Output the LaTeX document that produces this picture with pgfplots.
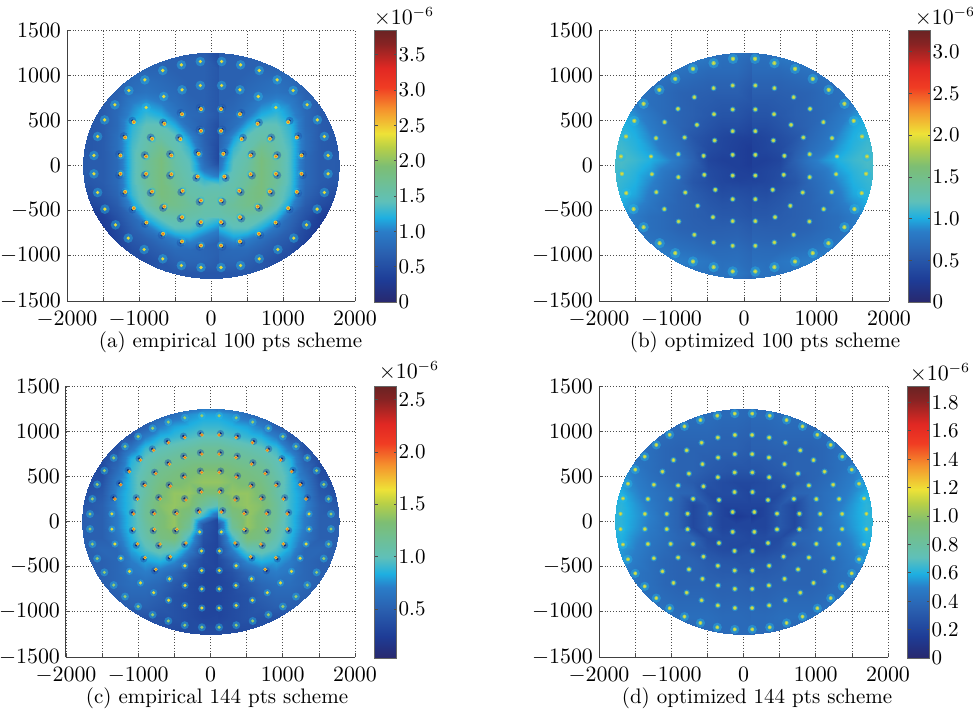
\documentclass[border=0pt]{standalone}
\usepackage{pgfplots}
\usepackage{pgfplotstable}
\pgfplotsset{compat=1.18}
\pgfplotsset{colormap={rm}{
 rgb255(0cm)=(40,40,110) rgb255(8cm)=(30,60,150) rgb255(18cm)=(42,96,176) rgb255(26cm)=(42,125,200)
 rgb255(31cm)=(30,175,225) rgb255(37cm)=(95,192,185) rgb255(50cm)=(125,190,115) rgb255(57cm)=(185,208,70)
 rgb255(62cm)=(238,226,55) rgb255(71cm)=(245,145,45) rgb255(79cm)=(240,60,35) rgb255(86cm)=(225,40,35)
 rgb255(95cm)=(135,35,35) rgb255(100cm)=(105,35,35)}}
\definecolor{hc}{RGB}{40,185,230}
\definecolor{hd}{RGB}{30,80,170}
\definecolor{dk}{RGB}{25,35,110}
\definecolor{sy}{RGB}{225,220,60}
\definecolor{so}{RGB}{245,110,35}
\definecolor{sg}{RGB}{150,205,110}
\pgfplotsset{
 halo/.style={only marks,mark=*,mark size=#1,mark options={draw opacity=0,fill=hc,fill opacity=.42}},
 halod/.style={only marks,mark=*,mark size=#1,mark options={draw opacity=0,fill=hd,fill opacity=.45}},
 sdark/.style={only marks,mark=*,mark size=#1,mark options={draw opacity=0,fill=dk}},
 syel/.style={only marks,mark=*,mark size=#1,mark options={draw opacity=0,fill=sy}},
 sora/.style={only marks,mark=*,mark size=#1,mark options={draw opacity=0,fill=so}},
 sgre/.style={only marks,mark=*,mark size=#1,mark options={draw opacity=0,fill=sg}},
 panel/.style={scale only axis,height=135.5pt,
  xmin=-2000,xmax=2000,ymin=-1500,ymax=1500,
  xtick={-2000,-1500,-1000,-500,0,500,1000,1500,2000},
  xticklabels={$-2000$,,$-1000$,,$0$,,$1000$,,$2000$},
  ytick={-1500,-1000,-500,0,500,1000,1500},
  yticklabels={$-1500$,$-1000$,$-500$,$0$,$500$,$1000$,$1500$},
  axis x line=bottom,axis y line=left,axis line style={-,black!75,line width=.5pt},
  grid=major,major grid style={densely dotted,black!70,line width=.35pt},
  tick align=inside,major tick length=2pt,tick style={black!70,line width=.35pt},
  tick label style={font=\fontsize{10.5}{12}\selectfont},
  xticklabel style={yshift=-1.5pt},yticklabel style={xshift=0.5pt},
  colormap name=rm,colorbar,
 },
 cbar/.style 2 args={colorbar style={width=11pt,height=136pt,xshift=-13pt,
   ytick={#1},yticklabels={#2},yticklabel pos=right,ytick pos=both,
   tick align=inside,major tick length=1.5pt,tick style={black!70,line width=.3pt},
   axis line style={black!60,line width=.4pt},
   tick label style={font=\fontsize{10.5}{12}\selectfont},yticklabel style={xshift=-2.5pt},
   }},
}
\newcommand\prep[1]{%
 \pgfplotstablecreatecol[create col/expr={200*mod(\pgfplotstablerow,10)}]{x}#1%
 \pgfplotstablecreatecol[create col/expr={1250-125*floor(\pgfplotstablerow/10)}]{y}#1%
}
\newcommand\field[1]{%
 \addplot[matrix plot*,shader=interp,mesh/cols=10,point meta=explicit] table[x=x,y=y,meta=z]{#1};
 \addplot[matrix plot*,shader=interp,mesh/cols=10,point meta=explicit] table[x expr=-\thisrow{x},y=y,meta=z]{#1};
}
\newcommand\both[2]{%
 \addplot[#1] table[x=x,y=y]{#2};
 \addplot[#1] table[x expr=-\thisrow{x},y=y]{#2};
}
\newcommand\dark[2]{%
 \addplot[#1,restrict y to domain=0:1500,every mark/.append style={xshift=.7pt,yshift=.7pt}] table[x=x,y=y]{#2};
 \addplot[#1,restrict y to domain=-1500:0,every mark/.append style={xshift=.7pt,yshift=-.7pt}] table[x=x,y=y]{#2};
 \addplot[#1,restrict y to domain=0:1500,every mark/.append style={xshift=-.7pt,yshift=.7pt}] table[x expr=-\thisrow{x},y=y]{#2};
 \addplot[#1,restrict y to domain=-1500:0,every mark/.append style={xshift=-.7pt,yshift=-.7pt}] table[x expr=-\thisrow{x},y=y]{#2};
}
\pgfplotstableread[row sep=\\]{z\\
0.5\\0.6\\0.6\\0.6\\0.6\\0.6\\0.6\\0.6\\0.6\\0.6\\
0.5\\0.7\\0.7\\0.7\\0.7\\0.7\\0.7\\0.7\\0.7\\0.6\\
0.6\\0.7\\0.7\\0.7\\0.75\\0.75\\0.75\\0.7\\0.7\\0.6\\
0.6\\0.7\\0.7\\0.75\\0.8\\0.85\\0.8\\0.7\\0.65\\0.6\\
0.6\\0.7\\0.7\\0.8\\0.85\\0.9\\0.85\\0.7\\0.65\\0.6\\
0.6\\0.7\\0.75\\0.85\\1.0\\1.1\\1.0\\0.75\\0.65\\0.6\\
0.6\\0.75\\0.8\\0.95\\1.2\\1.3\\1.1\\0.8\\0.65\\0.6\\
0.5\\0.7\\0.85\\1.2\\1.45\\1.45\\1.25\\0.8\\0.65\\0.6\\
0.5\\0.7\\1.1\\1.45\\1.55\\1.5\\1.3\\0.85\\0.65\\0.6\\
0.45\\0.75\\1.3\\1.5\\1.75\\1.55\\1.35\\0.85\\0.65\\0.6\\
0.45\\0.8\\1.4\\1.55\\1.85\\1.65\\1.35\\0.8\\0.65\\0.65\\
0.5\\0.9\\1.45\\1.6\\1.85\\1.65\\1.35\\0.8\\0.65\\0.65\\
0.9\\1.3\\1.5\\1.65\\1.85\\1.65\\1.35\\0.8\\0.65\\0.6\\
1.45\\1.5\\1.55\\1.75\\1.85\\1.55\\1.3\\0.75\\0.6\\0.5\\
1.55\\1.55\\1.65\\1.75\\1.75\\1.5\\1.1\\0.65\\0.5\\0.4\\
1.5\\1.5\\1.55\\1.55\\1.5\\1.25\\0.8\\0.55\\0.35\\0.3\\
1.3\\1.3\\1.4\\1.4\\1.2\\0.9\\0.7\\0.45\\0.3\\0.3\\
1.0\\1.0\\1.1\\1.0\\0.85\\0.7\\0.6\\0.4\\0.3\\0.3\\
0.7\\0.75\\0.8\\0.8\\0.7\\0.6\\0.5\\0.35\\0.3\\0.3\\
0.7\\0.75\\0.75\\0.7\\0.6\\0.5\\0.5\\0.4\\0.3\\0.3\\
0.6\\0.6\\0.6\\0.6\\0.6\\0.5\\0.5\\0.4\\0.3\\0.3\\
}\fieldA
\pgfplotstableread[row sep=\\]{z\\
0.7\\0.8\\0.75\\0.75\\0.75\\0.75\\0.75\\0.75\\0.75\\0.75\\
0.65\\0.72\\0.72\\0.78\\0.82\\0.85\\0.9\\0.9\\0.9\\0.9\\
0.6\\0.68\\0.68\\0.68\\0.72\\0.75\\0.8\\0.85\\0.9\\0.9\\
0.55\\0.62\\0.62\\0.62\\0.65\\0.68\\0.72\\0.75\\0.8\\0.85\\
0.5\\0.58\\0.58\\0.58\\0.6\\0.62\\0.68\\0.72\\0.8\\0.88\\
0.48\\0.52\\0.52\\0.55\\0.58\\0.62\\0.68\\0.72\\0.82\\0.92\\
0.42\\0.48\\0.48\\0.52\\0.58\\0.62\\0.68\\0.78\\0.9\\1.0\\
0.36\\0.42\\0.42\\0.48\\0.56\\0.62\\0.72\\0.82\\0.98\\1.05\\
0.3\\0.32\\0.36\\0.42\\0.5\\0.65\\0.75\\0.88\\1.02\\1.08\\
0.25\\0.3\\0.35\\0.4\\0.55\\0.7\\0.8\\0.95\\1.05\\1.12\\
0.25\\0.3\\0.3\\0.35\\0.6\\0.78\\0.92\\1.02\\1.1\\1.15\\
0.25\\0.3\\0.35\\0.4\\0.55\\0.7\\0.8\\0.95\\1.05\\1.12\\
0.3\\0.32\\0.36\\0.42\\0.5\\0.65\\0.75\\0.88\\1.02\\1.08\\
0.36\\0.42\\0.42\\0.48\\0.56\\0.62\\0.72\\0.82\\0.98\\1.05\\
0.42\\0.48\\0.48\\0.52\\0.58\\0.62\\0.68\\0.78\\0.9\\1.0\\
0.48\\0.52\\0.52\\0.55\\0.58\\0.62\\0.68\\0.72\\0.82\\0.92\\
0.5\\0.58\\0.58\\0.58\\0.6\\0.62\\0.68\\0.72\\0.8\\0.88\\
0.55\\0.62\\0.62\\0.62\\0.65\\0.68\\0.72\\0.75\\0.8\\0.85\\
0.6\\0.68\\0.68\\0.68\\0.72\\0.75\\0.8\\0.85\\0.9\\0.9\\
0.65\\0.72\\0.72\\0.78\\0.82\\0.85\\0.9\\0.9\\0.9\\0.9\\
0.7\\0.8\\0.75\\0.75\\0.75\\0.75\\0.75\\0.75\\0.75\\0.75\\
}\fieldB
\pgfplotstableread[row sep=\\]{z\\
0.5\\0.6\\0.5\\0.4\\0.4\\0.4\\0.4\\0.4\\0.4\\0.4\\
0.8\\0.8\\0.75\\0.6\\0.5\\0.4\\0.4\\0.4\\0.4\\0.4\\
0.9\\0.9\\0.85\\0.8\\0.7\\0.5\\0.4\\0.4\\0.4\\0.4\\
1.0\\1.0\\0.95\\0.9\\0.85\\0.7\\0.45\\0.4\\0.4\\0.4\\
1.15\\1.15\\1.1\\1.05\\1.0\\0.9\\0.65\\0.4\\0.35\\0.35\\
1.2\\1.2\\1.2\\1.15\\1.1\\1.0\\0.85\\0.5\\0.35\\0.35\\
1.35\\1.35\\1.3\\1.25\\1.2\\1.05\\0.9\\0.6\\0.35\\0.35\\
1.4\\1.4\\1.35\\1.3\\1.25\\1.1\\0.9\\0.7\\0.4\\0.35\\
1.3\\1.3\\1.4\\1.4\\1.3\\1.1\\0.9\\0.75\\0.45\\0.4\\
1.0\\1.15\\1.35\\1.4\\1.35\\1.15\\0.9\\0.75\\0.5\\0.45\\
0.55\\0.9\\1.25\\1.4\\1.3\\1.15\\0.9\\0.7\\0.5\\0.5\\
0.3\\0.45\\1.15\\1.4\\1.3\\1.1\\0.9\\0.7\\0.5\\0.5\\
0.3\\0.4\\0.9\\1.3\\1.25\\1.05\\0.85\\0.65\\0.5\\0.5\\
0.3\\0.35\\0.7\\1.0\\1.05\\0.95\\0.8\\0.55\\0.55\\0.5\\
0.3\\0.35\\0.5\\0.75\\0.85\\0.8\\0.7\\0.55\\0.5\\0.5\\
0.3\\0.3\\0.4\\0.55\\0.65\\0.7\\0.65\\0.55\\0.5\\0.5\\
0.3\\0.3\\0.35\\0.45\\0.55\\0.6\\0.6\\0.55\\0.5\\0.5\\
0.3\\0.3\\0.35\\0.4\\0.5\\0.55\\0.55\\0.5\\0.5\\0.5\\
0.3\\0.3\\0.35\\0.4\\0.45\\0.5\\0.5\\0.5\\0.5\\0.5\\
0.3\\0.3\\0.35\\0.4\\0.4\\0.4\\0.4\\0.4\\0.4\\0.4\\
0.35\\0.35\\0.35\\0.35\\0.4\\0.4\\0.4\\0.4\\0.4\\0.4\\
}\fieldC
\pgfplotstableread[row sep=\\]{z\\
0.4\\0.4\\0.4\\0.4\\0.38\\0.38\\0.38\\0.38\\0.38\\0.38\\
0.38\\0.4\\0.4\\0.42\\0.42\\0.42\\0.45\\0.45\\0.45\\0.45\\
0.36\\0.38\\0.38\\0.4\\0.4\\0.4\\0.42\\0.45\\0.45\\0.45\\
0.34\\0.36\\0.36\\0.38\\0.38\\0.38\\0.4\\0.42\\0.45\\0.45\\
0.32\\0.35\\0.35\\0.36\\0.36\\0.36\\0.38\\0.42\\0.45\\0.5\\
0.3\\0.32\\0.32\\0.34\\0.36\\0.36\\0.38\\0.42\\0.45\\0.5\\
0.28\\0.28\\0.3\\0.32\\0.36\\0.36\\0.38\\0.42\\0.48\\0.55\\
0.22\\0.22\\0.24\\0.28\\0.32\\0.36\\0.4\\0.44\\0.5\\0.55\\
0.2\\0.24\\0.24\\0.24\\0.36\\0.38\\0.42\\0.46\\0.52\\0.6\\
0.2\\0.2\\0.2\\0.3\\0.22\\0.36\\0.42\\0.48\\0.55\\0.62\\
0.18\\0.14\\0.2\\0.3\\0.22\\0.36\\0.42\\0.5\\0.56\\0.62\\
0.2\\0.2\\0.2\\0.3\\0.22\\0.36\\0.42\\0.48\\0.55\\0.62\\
0.2\\0.24\\0.24\\0.24\\0.36\\0.38\\0.42\\0.46\\0.52\\0.6\\
0.22\\0.22\\0.24\\0.28\\0.32\\0.36\\0.4\\0.44\\0.5\\0.55\\
0.28\\0.28\\0.3\\0.32\\0.36\\0.36\\0.38\\0.42\\0.48\\0.55\\
0.3\\0.32\\0.32\\0.34\\0.36\\0.36\\0.38\\0.42\\0.45\\0.5\\
0.32\\0.35\\0.35\\0.36\\0.36\\0.36\\0.38\\0.42\\0.45\\0.5\\
0.34\\0.36\\0.36\\0.38\\0.38\\0.38\\0.4\\0.42\\0.45\\0.45\\
0.36\\0.38\\0.38\\0.4\\0.4\\0.4\\0.42\\0.45\\0.45\\0.45\\
0.38\\0.4\\0.4\\0.42\\0.42\\0.42\\0.45\\0.45\\0.45\\0.45\\
0.4\\0.4\\0.4\\0.4\\0.38\\0.38\\0.38\\0.38\\0.38\\0.38\\
}\fieldD
\prep\fieldA \prep\fieldB \prep\fieldC \prep\fieldD
% panel (a) measurement points, right half (the left half is its mirror)
\pgfplotstableread{
x y
148 1151
411 1114
670 1052
919 948
1141 830
1335 672
1478 505
1575 321
1626 111
1626 -92
1575 -299
1474 -483
1326 -657
1150 -804
929 -930
670 -1033
411 -1107
139 -1129
148 886
402 838
656 764
901 642
}\Aout
\pgfplotstableread{
x y
1072 480
1192 310
1257 111
1257 -92
1192 -292
1072 -472
896 -631
665 -756
402 -841
139 -886
139 624
402 568
647 461
818 295
901 100
901 -92
818 -288
647 -454
402 -572
139 -627
139 384
425 292
550 111
550 -96
393 -280
139 -387
171 129
185 -122
}\Ain
% panel (b) points, right half
\pgfplotstableread{
x y
152 1181
419 1133
704 1070
948 959
1168 838
1385 683
1513 494
1628 321
1697 100
1684 -92
1624 -306
1523 -483
1385 -683
1164 -860
948 -970
704 -1063
419 -1125
156 -1173
}\Bout
\pgfplotstableread{
x y
156 886
419 856
685 756
911 627
1095 480
1214 303
1283 100
1270 -96
1210 -295
1099 -483
902 -620
685 -767
419 -852
156 -889
156 620
414 568
649 450
819 310
906 125
906 -129
810 -299
639 -446
428 -572
156 -616
156 380
405 277
557 107
548 -103
396 -269
156 -373
156 118
156 -111
}\Bin
% panels (c), (d) points, right half
\pgfplotstableread{
x y
150 105
124 326
339 238
464 87
122 543
355 490
554 389
698 250
774 86
120 746
352 708
568 635
755 530
905 399
1008 248
1062 84
119 958
355 929
580 872
786 788
969 680
1122 552
1241 407
1323 249
}\CU
\pgfplotstableread{
x y
464 -87
339 -238
774 -86
698 -250
554 -389
1062 -84
1008 -248
905 -399
755 -530
}\CLa
\pgfplotstableread{
x y
1365 84
150 -115
124 -326
122 -543
355 -490
120 -746
352 -708
568 -635
119 -958
355 -929
580 -872
786 -788
969 -680
1122 -552
1241 -407
1323 -249
1365 -84
}\CLb
\pgfplotstableread{
x y
119 1171
356 1148
584 1101
801 1032
1002 941
1183 831
1340 704
1469 563
1568 410
1635 250
1668 83
1668 -83
1635 -250
1568 -410
1469 -563
1340 -704
1183 -831
1002 -941
801 -1032
584 -1101
356 -1148
119 -1171
}\Cout
\pgfplotstableread{
x y
121 1194
363 1171
596 1123
817 1053
1022 960
1207 848
1367 718
1498 574
1599 418
1668 255
1701 85
1701 -85
1668 -255
1599 -418
1498 -574
1367 -718
1207 -848
1022 -960
817 -1053
596 -1123
363 -1171
121 -1194
}\Dout
\begin{document}
\begin{tikzpicture}
\path[use as bounding box] (0,0) rectangle (486.5pt,356.5pt);
% (a)
\begin{axis}[at={(33.5pt,206pt)},anchor=south west,width=144pt,panel,point meta min=0,point meta max=3.85,
 cbar={0,0.5,1,1.5,2,2.5,3,3.5}{0,0.5,1.0,1.5,2.0,2.5,3.0,3.5}]
\begin{scope}
\clip (axis cs:0,0) ellipse [x radius=64.08pt,y radius=56.46pt];
\field{\fieldA}
\both{halo=2.4pt}{\Aout}
\both{halo=2pt}{\Ain}
\dark{halod=2pt}{\Ain}
\dark{sdark=.7pt}{\Ain}
\both{syel=.9pt}{\Aout}
\both{syel=1pt}{\Ain}
\both{sora=.6pt}{\Ain}
\end{scope}
\end{axis}
% (b)
\begin{axis}[at={(299.5pt,206pt)},anchor=south west,width=145pt,panel,point meta min=0,point meta max=3.26,
 cbar={0,0.5,1,1.5,2,2.5,3}{0,0.5,1.0,1.5,2.0,2.5,3.0}]
\begin{scope}
\clip (axis cs:0,0) ellipse [x radius=64.5pt,y radius=56.46pt];
\field{\fieldB}
\both{halo=2.6pt}{\Bout}
\both{halo=1.5pt}{\Bin}
\both{sgre=1.1pt}{\Bout}
\both{sgre=1pt}{\Bin}
\both{syel=.6pt}{\Bout}
\both{syel=.55pt}{\Bin}
\end{scope}
\end{axis}
% (c)
\begin{axis}[at={(33pt,28pt)},anchor=south west,width=144.5pt,panel,point meta min=0.03,point meta max=2.63,
 cbar={0.5,1,1.5,2,2.5}{0.5,1.0,1.5,2.0,2.5}]
\begin{scope}
\clip (axis cs:0,0) ellipse [x radius=64.3pt,y radius=56.46pt];
\field{\fieldC}
\both{halo=2pt}{\Cout}
\both{halo=1.8pt}{\CLb}
\dark{halod=1.8pt}{\CU}
\dark{halod=1.8pt}{\CLa}
\dark{sdark=.7pt}{\CU}
\dark{sdark=.7pt}{\CLa}
\both{sgre=.85pt}{\Cout}
\both{syel=.85pt}{\CLb}
\both{syel=.95pt}{\CU}
\both{syel=.95pt}{\CLa}
\both{sora=.6pt}{\CU}
\both{sora=.5pt}{\CLa}
\end{scope}
\end{axis}
% (d)
\begin{axis}[at={(299.5pt,28pt)},anchor=south west,width=144.5pt,panel,point meta min=0,point meta max=1.915,
 cbar={0,0.2,0.4,0.6,0.8,1,1.2,1.4,1.6,1.8}{0,0.2,0.4,0.6,0.8,1.0,1.2,1.4,1.6,1.8}]
\begin{scope}
\clip (axis cs:0,0) ellipse [x radius=64.3pt,y radius=56.46pt];
\field{\fieldD}
\both{halo=2.3pt}{\Dout}
\both{halo=1.6pt}{\CU}
\both{halo=1.6pt}{\CLa}
\both{halo=1.6pt}{\CLb}
\both{sgre=1pt}{\Dout}
\both{sgre=1pt}{\CU}
\both{sgre=1pt}{\CLa}
\both{sgre=1pt}{\CLb}
\both{syel=.6pt}{\Dout}
\both{syel=.6pt}{\CU}
\both{syel=.6pt}{\CLa}
\both{syel=.6pt}{\CLb}
\end{scope}
\end{axis}
% captions and multipliers
\node[font=\fontsize{10.5}{12}\selectfont] at (115.25pt,185.5pt) {(a) empirical 100 pts scheme};
\node[font=\fontsize{10.5}{12}\selectfont] at (382.5pt,185.5pt) {(b) optimized 100 pts scheme};
\node[font=\fontsize{10.5}{12}\selectfont] at (108.5pt,7.5pt) {(c) empirical 144 pts scheme};
\node[font=\fontsize{10.5}{12}\selectfont] at (378.5pt,7.5pt) {(d) optimized 144 pts scheme};
\node[font=\fontsize{10.5}{12}\selectfont] at (202pt,348pt) {$\times 10^{-6}$};
\node[font=\fontsize{10.5}{12}\selectfont] at (472.5pt,348pt) {$\times 10^{-6}$};
\node[font=\fontsize{10.5}{12}\selectfont] at (204.5pt,171pt) {$\times 10^{-6}$};
\node[font=\fontsize{10.5}{12}\selectfont] at (470pt,170pt) {$\times 10^{-6}$};
\end{tikzpicture}
\end{document}
